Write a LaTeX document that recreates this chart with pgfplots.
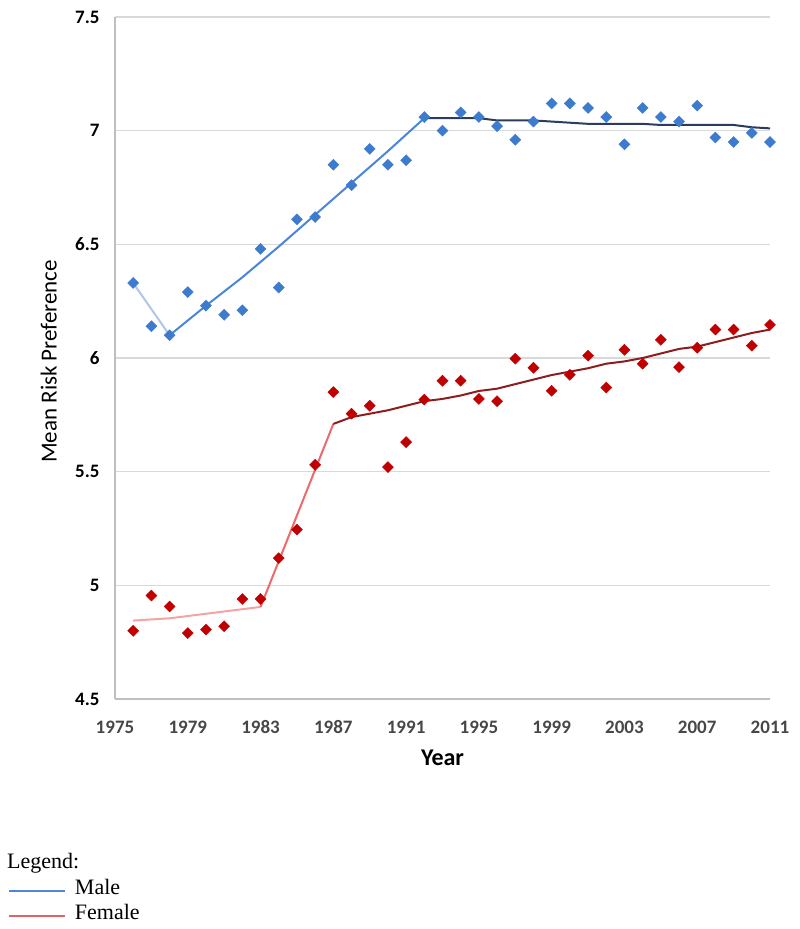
\documentclass[border=0pt]{standalone}
\usepackage{pgfplots}
\pgfplotsset{compat=1.18}
\usepackage{fontspec}
\setmainfont{Carlito}[Numbers=Lining]
\newfontfamily\legendfont{Liberation Serif}
\definecolor{malept}{HTML}{3D7BCE}
\definecolor{femalept}{HTML}{C00000}
\definecolor{maleA}{HTML}{AFC6EA}
\definecolor{maleB}{HTML}{4A86D8}
\definecolor{maleC}{HTML}{2A3D5E}
\definecolor{femA}{HTML}{F4A3A3}
\definecolor{femB}{HTML}{EE6A6A}
\definecolor{femC}{HTML}{8E1D1D}
\definecolor{legblue}{HTML}{4F86D9}
\definecolor{legred}{HTML}{E06464}
\definecolor{gridgray}{HTML}{D9D9D9}
\definecolor{axgray}{HTML}{BFBFBF}

\pgfplotstableread{
year val
1976 6.33
1977 6.14
1978 6.10
1979 6.29
1980 6.23
1981 6.19
1982 6.21
1983 6.48
1984 6.31
1985 6.61
1986 6.62
1987 6.85
1988 6.76
1989 6.92
1990 6.85
1991 6.87
1992 7.06
1993 7.00
1994 7.08
1995 7.06
1996 7.02
1997 6.96
1998 7.04
1999 7.12
2000 7.12
2001 7.10
2002 7.06
2003 6.94
2004 7.10
2005 7.06
2006 7.04
2007 7.11
2008 6.97
2009 6.95
2010 6.99
2011 6.95
}\maletable

\pgfplotstableread{
year val
1976 4.80
1977 4.955
1978 4.907
1979 4.79
1980 4.805
1981 4.82
1982 4.94
1983 4.94
1984 5.12
1985 5.245
1986 5.53
1987 5.85
1988 5.755
1989 5.79
1990 5.52
1991 5.63
1992 5.817
1993 5.90
1994 5.90
1995 5.82
1996 5.81
1997 5.997
1998 5.957
1999 5.856
2000 5.926
2001 6.01
2002 5.87
2003 6.036
2004 5.975
2005 6.08
2006 5.96
2007 6.045
2008 6.125
2009 6.125
2010 6.054
2011 6.146
}\femaletable

\begin{document}
\begin{tikzpicture}
\path[use as bounding box] (0bp,0bp) rectangle (800bp,929bp);
\begin{axis}[
  at={(115bp,230bp)}, anchor=south west,
  scale only axis, width=655bp, height=682bp,
  xmin=1975, xmax=2011, ymin=4.5, ymax=7.5,
  xtick={1975,1979,...,2011},
  ytick={4.5,5,5.5,6,6.5,7,7.5},
  axis x line=bottom, axis y line=left,
  axis line style={-, draw=axgray, line width=1.3bp},
  major tick length=0pt,
  ymajorgrids, grid style={draw=gridgray, line width=1.6bp},
  /pgf/number format/assume math mode=true,
  xticklabel style={/pgf/number format/1000 sep={}, font=\bfseries\fontsize{19bp}{22bp}\selectfont, text=black!72, anchor=north, text height=12bp, text depth=0bp, yshift=-19bp},
  yticklabel style={font=\bfseries\fontsize{19bp}{22bp}\selectfont, text=black, xshift=-12bp},
  xlabel={Year},
  xlabel style={at={(axis description cs:0.5,-0.0865)}, anchor=center, font=\bfseries\fontsize{24bp}{28bp}\selectfont},
  ylabel={Mean Risk Preference},
  ylabel style={at={(axis description cs:-0.101,0.495)}, anchor=center, rotate=0, font=\fontsize{23bp}{27bp}\selectfont},
  clip=false,
  legend image code/.code={\draw[#1] (0bp,0bp) -- (56bp,0bp);},
  legend style={at={(axis description cs:-0.1634,-0.2625)}, anchor=north west, draw=none, fill=none, inner sep=0pt, column sep=9bp, row sep=0pt,
    nodes={inner xsep=0pt, inner ysep=0pt, text height=16bp, text depth=9bp, font=\legendfont\fontsize{22bp}{25bp}\selectfont}},
  legend cell align=left,
]
% markers
\addplot[only marks, mark=square*, mark size=3.9bp, mark options={rotate=45, fill=malept, draw=malept}, forget plot] table[x=year, y=val] {\maletable};
\addplot[only marks, mark=square*, mark size=3.9bp, mark options={rotate=45, fill=femalept, draw=femalept}, forget plot] table[x=year, y=val] {\femaletable};
% male trend
\addplot[maleA, line width=2bp, forget plot] coordinates {(1976,6.33) (1978,6.10)};
\addplot[maleB, line width=2bp, forget plot] coordinates {(1978,6.10) (1980,6.23) (1982,6.355) (1984,6.49) (1986,6.63) (1988,6.77) (1990,6.91) (1992,7.055)};
\addplot[maleC, line width=2bp, forget plot] coordinates {(1992,7.055) (1995,7.055) (1996,7.045) (1998,7.045) (1999,7.04) (2000,7.035) (2001,7.03) (2004,7.03) (2005,7.025) (2009,7.025) (2010,7.015) (2011,7.01)};
% female trend
\addplot[femA, line width=2bp, forget plot] coordinates {(1976,4.845) (1978,4.855) (1983,4.905)};
\addplot[femB, line width=2bp, forget plot] coordinates {(1983,4.905) (1987,5.71)};
\addplot[femC, line width=2bp, forget plot] coordinates {(1987,5.71) (1988,5.74) (1989,5.755) (1990,5.77) (1991,5.79) (1992,5.81) (1993,5.82) (1994,5.835) (1995,5.855) (1996,5.865) (1997,5.885) (1998,5.905) (1999,5.925) (2000,5.94) (2001,5.955) (2002,5.975) (2003,5.985) (2004,6.00) (2005,6.02) (2006,6.04) (2007,6.05) (2008,6.07) (2009,6.09) (2010,6.11) (2011,6.125)};
\addlegendimage{legblue, line width=1.8bp}
\addlegendentry{Male}
\addlegendimage{legred, line width=1.8bp}
\addlegendentry{Female}
\end{axis}
\node[anchor=west, inner sep=0pt, font=\legendfont\fontsize{22bp}{25bp}\selectfont] at (7bp,66bp) {Legend:};
\end{tikzpicture}
\end{document}
